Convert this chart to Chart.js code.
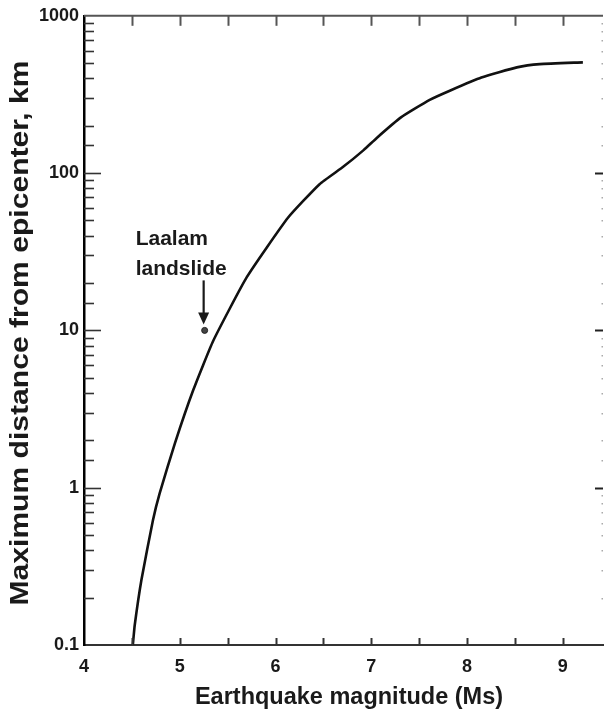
<!DOCTYPE html>
<html>
<head>
<meta charset="utf-8">
<script src="https://cdn.jsdelivr.net/npm/chart.js@4.4.1/dist/chart.umd.min.js"></script>
<style>
  html, body { margin: 0; padding: 0; background: #fff; }
  #wrap { width: 604px; height: 712px; }
</style>
</head>
<body>
<div id="wrap"><canvas id="chart"></canvas></div>
<script>
// curve values (magnitude Ms -> max distance km)
const magnitudes = [4.51, 4.53, 4.60, 4.72, 4.79, 4.95, 5.14, 5.35, 5.70, 6.13, 6.46, 6.71, 6.92, 7.06, 7.31, 7.61, 7.82, 8.15, 8.52, 8.76, 9.21];
const distances  = [0.1, 0.134, 0.26, 0.62, 0.92, 1.92, 4.16, 8.6, 21.8, 52, 85, 110, 140, 168, 226, 292, 334, 405, 470, 493, 506];

const landslideMagnitude = [5.26];
const landslideDistance = [10];
const landslideLabel = ['Laalam', 'landslide'];

const xTickValues = [4, 5, 6, 7, 8, 9];
const xMinorValues = [4.5, 5, 5.5, 6, 6.5, 7, 7.5, 8, 8.5, 9];
const yTickLabels = [0.1, 1, 10, 100, 1000];

const xTitle = 'Earthquake magnitude (Ms)';
const yTitle = 'Maximum distance from epicenter, km';

const FONT = '"Liberation Sans", Arial, Helvetica, sans-serif';
const INK = '#1a1a1a';

function isDecade(v) {
  return yTickLabels.some(t => Math.abs(t - v) < 1e-9 * Math.max(1, t));
}

const framePlugin = {
  id: 'frame',
  afterDraw(chart) {
    const ctx = chart.ctx;
    const { left, right, top, bottom } = chart.chartArea;
    const xs = chart.scales.x, ys = chart.scales.y;
    ctx.save();

    // top border
    ctx.strokeStyle = '#555';
    ctx.lineWidth = 2;
    ctx.beginPath();
    ctx.moveTo(left, top);
    ctx.lineTo(right, top);
    ctx.stroke();

    // x ticks, top (down) and bottom (up)
    xMinorValues.forEach(v => {
      const px = Math.round(xs.getPixelForValue(v)) + 0.5;
      ctx.strokeStyle = '#555';
      ctx.lineWidth = 2;
      ctx.beginPath();
      ctx.moveTo(px, top);
      ctx.lineTo(px, top + 10);
      ctx.stroke();
      ctx.strokeStyle = '#333';
      ctx.beginPath();
      ctx.moveTo(px, bottom);
      ctx.lineTo(px, bottom - 7);
      ctx.stroke();
    });

    // y ticks, left inward and right side
    ys.ticks.forEach(t => {
      const v = t.value;
      if (v <= ys.min + 1e-9 || v >= ys.max - 1e-9) return;
      const py = Math.round(ys.getPixelForValue(v)) + 0.5;
      const major = isDecade(v);
      ctx.strokeStyle = '#333';
      ctx.lineWidth = 1.6;
      ctx.beginPath();
      ctx.moveTo(left, py);
      ctx.lineTo(left + (major ? 17 : 10), py);
      ctx.stroke();
      if (major) {
        ctx.lineWidth = 2;
        ctx.strokeStyle = '#222';
        ctx.beginPath();
        ctx.moveTo(right - 8, py);
        ctx.lineTo(right, py);
        ctx.stroke();
      } else {
        ctx.fillStyle = '#aaa';
        ctx.fillRect(right - 1.5, py - 0.5, 1.5, 1.5);
      }
    });

    // axis titles
    ctx.fillStyle = INK;
    ctx.font = 'bold 23.5px ' + FONT;
    ctx.textAlign = 'center';
    ctx.textBaseline = 'alphabetic';
    ctx.fillText(xTitle, 349, 704);

    ctx.font = 'bold 25px ' + FONT;
    ctx.textBaseline = 'middle';
    const w = ctx.measureText(yTitle).width;
    ctx.translate(21, 333);
    ctx.rotate(-Math.PI / 2);
    ctx.scale(545 / w, 1);
    ctx.fillText(yTitle, 0, 0);
    ctx.setTransform(1, 0, 0, 1, 0, 0);

    // landslide annotation
    const dx = xs.getPixelForValue(landslideMagnitude[0]);
    const dy = ys.getPixelForValue(landslideDistance[0]);
    ctx.fillStyle = INK;
    ctx.font = 'bold 21px ' + FONT;
    ctx.textAlign = 'left';
    ctx.textBaseline = 'alphabetic';
    ctx.fillText(landslideLabel[0], dx - 69, dy - 85);
    ctx.fillText(landslideLabel[1], dx - 69, dy - 55);

    ctx.strokeStyle = INK;
    ctx.lineWidth = 2.2;
    ctx.beginPath();
    ctx.moveTo(dx - 1, dy - 50);
    ctx.lineTo(dx - 1, dy - 16);
    ctx.stroke();
    ctx.beginPath();
    ctx.moveTo(dx - 6.5, dy - 18);
    ctx.lineTo(dx + 4.5, dy - 18);
    ctx.lineTo(dx - 1, dy - 6);
    ctx.closePath();
    ctx.fill();

    ctx.restore();
  }
};

new Chart(document.getElementById('chart'), {
  type: 'line',
  data: {
    datasets: [
      {
        data: magnitudes.map((m, i) => ({ x: m, y: distances[i] })),
        borderColor: '#111',
        borderWidth: 2.6,
        pointRadius: 0,
        tension: 0.15,
        fill: false,
      },
      {
        type: 'scatter',
        data: landslideMagnitude.map((m, i) => ({ x: m, y: landslideDistance[i] })),
        pointRadius: 3,
        pointBackgroundColor: '#444',
        pointBorderColor: '#222',
        pointBorderWidth: 1,
      },
    ],
  },
  plugins: [framePlugin],
  options: {
    responsive: true,
    maintainAspectRatio: false,
    animation: false,
    layout: { autoPadding: false, padding: { left: 0, top: 15, right: 1, bottom: 0 } },
    plugins: {
      legend: { display: false },
      tooltip: { enabled: false },
    },
    scales: {
      x: {
        type: 'linear',
        position: 'bottom',
        min: 4,
        max: 9.42,
        afterBuildTicks: s => { s.ticks = xTickValues.map(v => ({ value: v })); },
        afterFit: s => { s.height = 67; },
        grid: { display: false, drawTicks: false },
        border: { display: true, color: '#333', width: 2 },
        ticks: {
          padding: 11,
          color: INK,
          font: { family: FONT, size: 18, weight: 'bold' },
          maxRotation: 0,
        },
      },
      y: {
        type: 'logarithmic',
        min: 0.1,
        max: 1000,
        afterFit: s => { s.width = 84; },
        grid: { display: false, drawTicks: false },
        border: { display: true, color: '#000', width: 2.5 },
        ticks: {
          padding: 5,
          color: INK,
          font: { family: FONT, size: 18, weight: 'bold' },
          autoSkip: false,
          callback: v => isDecade(v) ? String(v) : '',
        },
      },
    },
  },
});
</script>
</body>
</html>
